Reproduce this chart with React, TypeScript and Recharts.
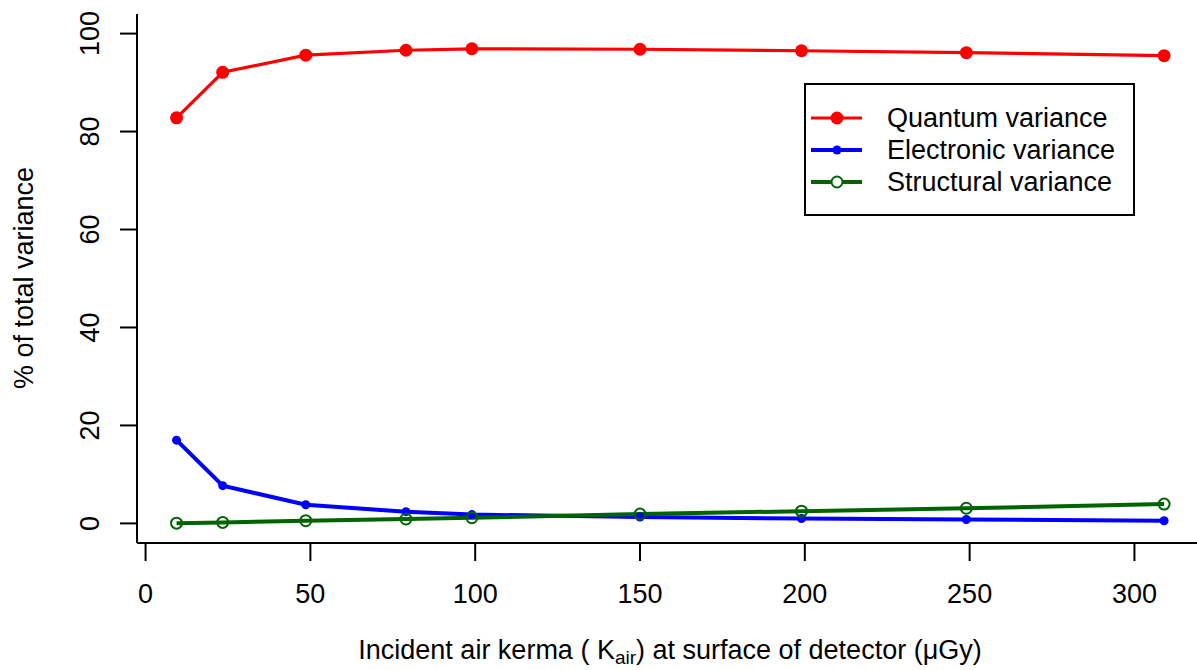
import { LineChart, Line, XAxis, YAxis, Legend, Label } from "recharts";

// incident air kerma (µGy) and variance shares (% of total)
const kerma = [9.4, 23.4, 48.6, 79, 99, 150, 199, 249, 309];
const quantum = [82.8, 92.1, 95.6, 96.6, 96.9, 96.8, 96.5, 96.1, 95.5];
const electronic = [17.0, 7.7, 3.8, 2.4, 1.8, 1.3, 1.0, 0.8, 0.55];
const structural = [0.05, 0.2, 0.55, 0.9, 1.15, 1.9, 2.5, 3.1, 3.95];

const xTicks = [0, 50, 100, 150, 200, 250, 300];
const yTicks = [0, 20, 40, 60, 80, 100];

const series = [
  { key: "quantum", name: "Quantum variance", color: "#FF0000", width: 3.2, r: 6.5, open: false },
  { key: "electronic", name: "Electronic variance", color: "#0000FF", width: 4, r: 4.5, open: false },
  { key: "structural", name: "Structural variance", color: "#006400", width: 4, r: 5.5, open: true },
];

const data = kerma.map((k, i) => ({
  kerma: k,
  quantum: quantum[i],
  electronic: electronic[i],
  structural: structural[i],
}));

const FONT = "'Liberation Sans', Arial, sans-serif";
const FS = 27;

const XTick = ({ x, payload }: any) => (
  <text x={x} y={603} textAnchor="middle" fontFamily={FONT} fontSize={FS} fill="#000">
    {payload.value}
  </text>
);

const YTick = ({ y, payload }: any) => (
  <text
    x={90}
    y={y}
    transform={`rotate(-90, 90, ${y})`}
    textAnchor="middle"
    dominantBaseline="central"
    fontFamily={FONT}
    fontSize={FS}
    fill="#000"
  >
    {payload.value}
  </text>
);

const XTitle = () => (
  <text x={670} y={659} textAnchor="middle" fontFamily={FONT} fontSize={FS} fill="#000">
    Incident air kerma ( K
    <tspan fontSize={19} dy={5}>air</tspan>
    <tspan dy={-5}>) at surface of detector (μGy)</tspan>
  </text>
);

const YTitle = () => (
  <text
    x={24}
    y={278}
    transform="rotate(-90, 24, 278)"
    textAnchor="middle"
    dominantBaseline="central"
    fontFamily={FONT}
    fontSize={FS}
    fill="#000"
  >
    % of total variance
  </text>
);

const LegendBox = () => (
  <svg width={331} height={133} style={{ display: "block" }}>
    <rect x={1} y={1} width={329} height={131} fill="#fff" stroke="#000" strokeWidth={2} />
    {series.map((s, i) => {
      const cy = 35 + i * 32;
      return (
        <g key={s.key}>
          <line x1={7} x2={58} y1={cy} y2={cy} stroke={s.color} strokeWidth={s.width} />
          <circle
            cx={33}
            cy={cy}
            r={s.r}
            fill={s.open ? "#fff" : s.color}
            stroke={s.color}
            strokeWidth={s.open ? 2 : 0}
          />
          <text x={83} y={cy} dominantBaseline="central" fontFamily={FONT} fontSize={FS} fill="#000">
            {s.name}
          </text>
        </g>
      );
    })}
  </svg>
);

export default function App() {
  return (
    <div
      style={{
        position: "absolute",
        left: 0,
        top: 0,
        width: 1197,
        height: 670,
        overflow: "hidden",
        background: "#fff",
      }}
    >
      <LineChart width={1204} height={670} data={data} margin={{ top: 14, right: 1, bottom: 0, left: 0 }}>
        <XAxis
          dataKey="kerma"
          type="number"
          domain={[-2.6, 320.8]}
          ticks={xTicks}
          allowDataOverflow
          height={127}
          stroke="#000"
          strokeWidth={2}
          tickSize={18}
          tick={<XTick />}
        >
          <Label content={<XTitle />} />
        </XAxis>
        <YAxis
          type="number"
          domain={[-4, 104]}
          ticks={yTicks}
          allowDataOverflow
          width={137}
          stroke="#000"
          strokeWidth={2}
          tickSize={17}
          tick={<YTick />}
        >
          <Label content={<YTitle />} />
        </YAxis>
        {series.map((s) => (
          <Line
            key={s.key}
            dataKey={s.key}
            name={s.name}
            type="linear"
            stroke={s.color}
            strokeWidth={s.width}
            dot={{ r: s.r, fill: s.open ? "none" : s.color, stroke: s.color, strokeWidth: s.open ? 2 : 0 }}
            activeDot={false}
            isAnimationActive={false}
          />
        ))}
        <Legend
          layout="vertical"
          align="center"
          verticalAlign="middle"
          content={<LegendBox />}
          wrapperStyle={{ left: 804, top: 83, width: 331, height: 133 }}
        />
      </LineChart>
    </div>
  );
}
